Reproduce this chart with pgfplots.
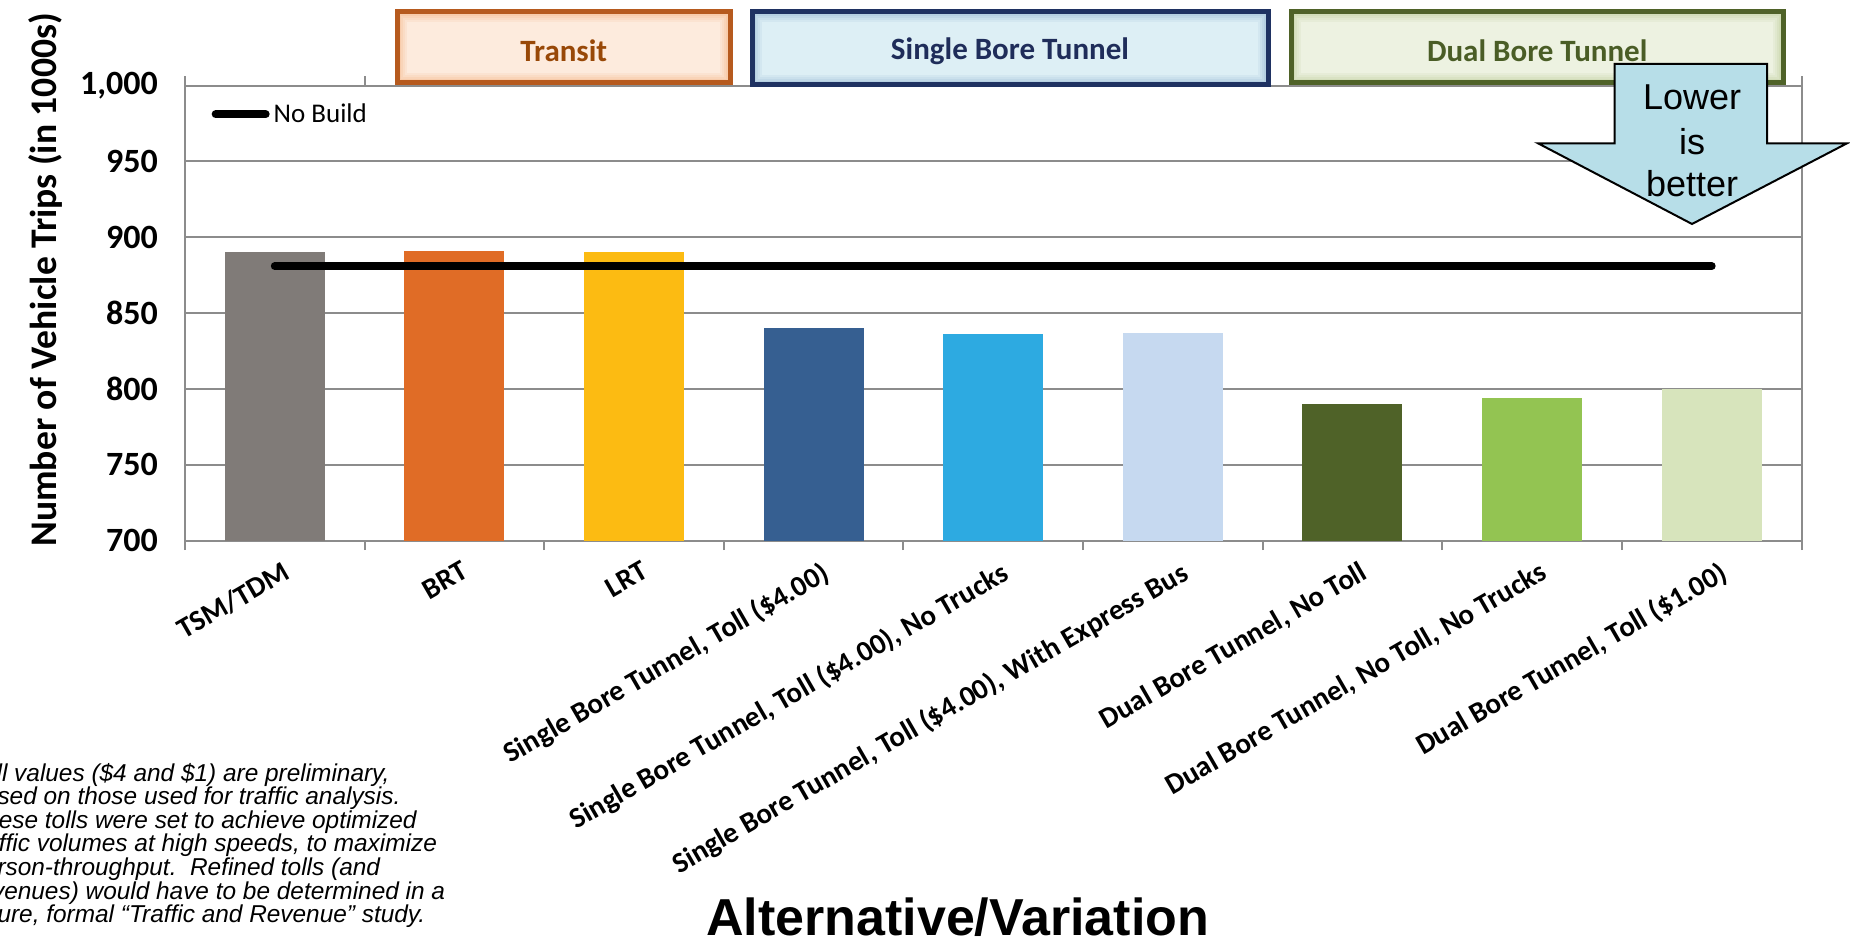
\documentclass[border=0pt]{standalone}
\usepackage{pgfplots}
\pgfplotsset{compat=1.18}
\usepackage{fontspec}
\setmainfont{Carlito}
\newfontfamily\arialfont{Liberation Sans}

% bar colours
\definecolor{cTSM}{HTML}{807B78}
\definecolor{cBRT}{HTML}{E06C26}
\definecolor{cLRT}{HTML}{FCBB12}
\definecolor{cSBa}{HTML}{365F91}
\definecolor{cSBb}{HTML}{2DAAE1}
\definecolor{cSBc}{HTML}{C6D9F0}
\definecolor{cDBa}{HTML}{4F6228}
\definecolor{cDBb}{HTML}{93C452}
\definecolor{cDBc}{HTML}{D7E4BC}
% frame and group boxes
\definecolor{gridgray}{HTML}{8C8C8C}
\definecolor{trB}{HTML}{B65A1E}
\definecolor{trF}{HTML}{FDEBDD}
\definecolor{trG}{HTML}{F7C29B}
\definecolor{trT}{HTML}{984807}
\definecolor{sbB}{HTML}{1F3262}
\definecolor{sbF}{HTML}{DDEFF5}
\definecolor{sbG}{HTML}{A9C6DC}
\definecolor{sbT}{HTML}{1F2D5A}
\definecolor{dbB}{HTML}{4F6228}
\definecolor{dbF}{HTML}{EDF2E1}
\definecolor{dbG}{HTML}{C9D6AC}
\definecolor{dbT}{HTML}{4A5D26}
\definecolor{arrowF}{HTML}{B7DEE8}

% header box with a soft inner glow: corners, border, fill, glow
\newcommand\glowbox[6]{%
  \fill[#4] (#1) rectangle (#2);
  \foreach \d/\o in {1.6/0.75,2.6/0.55,3.6/0.35,4.6/0.18}{
    \draw[#5, line width=1pt, opacity=\o]
      ([shift={(\d pt,\d pt)}]#1) rectangle ([shift={(-\d pt,-\d pt)}]#2);
  }
  \draw[#3, line width=2.5pt] (#1) rectangle (#2);
}

\begin{document}
\begin{tikzpicture}[x=1pt,y=1pt]
\begin{axis}[
  at={(92.5pt,200.7pt)}, anchor=south west,
  scale only axis, width=808.25pt, height=227.5pt,
  xmin=0.5, xmax=9.5, ymin=700, ymax=1000,
  xtick={1,...,9},
  xticklabels={TSM/TDM, BRT, LRT,
    {Single Bore Tunnel, Toll (\$4.00)},
    {Single Bore Tunnel, Toll (\$4.00), No Trucks},
    {Single Bore Tunnel, Toll (\$4.00), With Express Bus},
    {Dual Bore Tunnel, No Toll},
    {Dual Bore Tunnel, No Toll, No Trucks},
    {Dual Bore Tunnel, Toll (\$1.00)}},
  minor xtick={0.5,1.5,...,9.5},
  ytick={700,750,...,1000},
  major tick length=0pt,
  minor tick length=4.7pt,
  tick align=outside,
  every minor x tick/.append style={draw=gridgray, line width=1pt},
  ymajorgrids=true,
  grid style={draw=gridgray, line width=1pt},
  axis line style={draw=gridgray, line width=1pt},
  /pgf/number format/.cd, 1000 sep={,}, assume math mode=true,
  /pgfplots/.cd,
  yticklabel style={font=\fontsize{17}{17}\selectfont\bfseries, xshift=-10pt},
  xticklabel style={font=\fontsize{14.5}{15}\selectfont\bfseries,
    rotate=30, anchor=north east, inner sep=0pt, yshift=-10pt, xshift=-2pt},
  ylabel={Number of Vehicle Trips (in 1000s)},
  ylabel style={font=\fontsize{18.8}{19}\selectfont\bfseries,
    at={(axis description cs:-0.0866,0.573)}, anchor=center},
  xlabel={\arialfont\bfseries Alternative/Variation},
  xlabel style={font=\fontsize{26}{26}\selectfont,
    at={(axis description cs:0.478,-0.827)}, anchor=center},
  legend style={draw=none, fill=none, at={(axis description cs:0.0165,0.937)},
    anchor=west, inner sep=0pt, outer sep=0pt, column sep=2pt,
    nodes={inner sep=0pt}, font=\fontsize{13.5}{14}\selectfont},
  legend cell align=left,
  legend image code/.code={\draw[line width=4pt, line cap=round, black] (0pt,0pt) -- (25pt,0pt);},
]
\addplot[ybar, bar width=50pt, fill=cTSM, draw=none, forget plot] coordinates {(1,890)};
\addplot[ybar, bar width=50pt, fill=cBRT, draw=none, forget plot] coordinates {(2,891)};
\addplot[ybar, bar width=50pt, fill=cLRT, draw=none, forget plot] coordinates {(3,890)};
\addplot[ybar, bar width=50pt, fill=cSBa, draw=none, forget plot] coordinates {(4,840)};
\addplot[ybar, bar width=50pt, fill=cSBb, draw=none, forget plot] coordinates {(5,836)};
\addplot[ybar, bar width=50pt, fill=cSBc, draw=none, forget plot] coordinates {(6,837)};
\addplot[ybar, bar width=50pt, fill=cDBa, draw=none, forget plot] coordinates {(7,790)};
\addplot[ybar, bar width=50pt, fill=cDBb, draw=none, forget plot] coordinates {(8,794)};
\addplot[ybar, bar width=50pt, fill=cDBc, draw=none, forget plot] coordinates {(9,800)};
% No Build reference level
\addplot[black, line width=4pt, line cap=round, mark=none]
  coordinates {(1,881) (2,881) (3,881) (4,881) (5,881) (6,881) (7,881) (8,881) (9,881)};
\addlegendentry{No Build}
\end{axis}

% group headers above the plot area
\glowbox{198.5,429.5}{365.25,465.15}{trB}{trF}{trG}{}
\glowbox{376,428.5}{634,465.15}{sbB}{sbF}{sbG}{}
\glowbox{645.5,429.5}{891.8,465.15}{dbB}{dbF}{dbG}{}
\node[font=\fontsize{15.5}{16}\selectfont\bfseries, text=trT] at (281.9,445.6) {Transit};
\node[font=\fontsize{15.5}{16}\selectfont\bfseries, text=sbT] at (505,445.6) {Single Bore Tunnel};
\node[font=\fontsize{15.5}{16}\selectfont\bfseries, text=dbT] at (768.6,445.6) {Dual Bore Tunnel};

% "Lower is better" arrow
\draw[fill=arrowF, draw=black, line width=1pt, line join=miter]
  (807.25,439) -- (883.5,439) -- (883.5,399.35) -- (923.5,399.35)
  -- (846,359) -- (769,399.35) -- (807.25,399.35) -- cycle;
\node[anchor=base, font=\arialfont\fontsize{18}{22}\selectfont, inner sep=0pt] at (846,416) {Lower};
\node[anchor=base, font=\arialfont\fontsize{18}{22}\selectfont, inner sep=0pt] at (846,393.5) {is};
\node[anchor=base, font=\arialfont\fontsize{18}{22}\selectfont, inner sep=0pt] at (846,372.5) {better};

% toll note
\node[anchor=north west, inner sep=0pt, align=left,
  font=\arialfont\itshape\fontsize{12.2}{11.8}\selectfont] at (-15,89.7)
  {Toll values (\$4 and \$1) are preliminary,\\
   based on those used for traffic analysis.\\
   These tolls were set to achieve optimized\\
   traffic volumes at high speeds, to maximize\\
   person-throughput.\ \ Refined tolls (and\\
   revenues) would have to be determined in a\\
   future, formal “Traffic and Revenue” study.};

\pgfresetboundingbox
\useasboundingbox (0,0) rectangle (925,471);
\end{tikzpicture}
\end{document}
